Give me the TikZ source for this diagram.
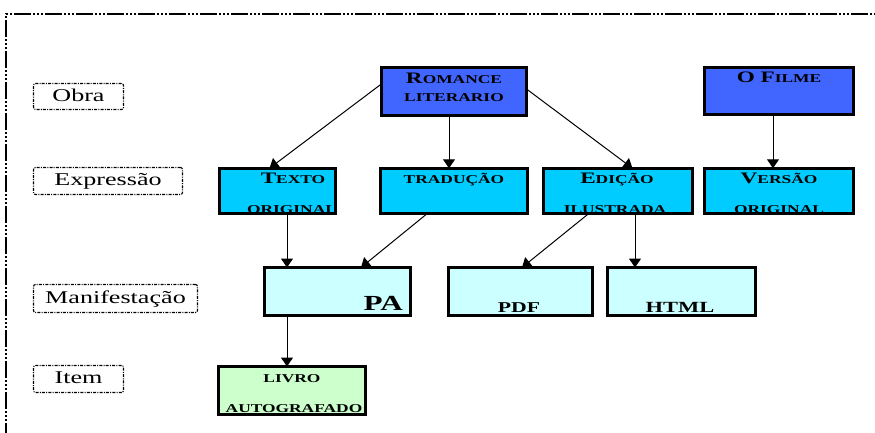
\documentclass[tikz,border=0pt]{standalone}
\usepackage{fontspec}
\setmainfont{Liberation Serif}[FakeStretch=1.45]
\usetikzlibrary{arrows.meta}
\definecolor{obraBlue}{RGB}{64,102,255}
\definecolor{exprCyan}{RGB}{0,204,255}
\definecolor{manifCyan}{RGB}{204,255,255}
\definecolor{itemGreen}{RGB}{204,255,204}
\newcommand{\Sm}[1]{{\fontsize{12}{14}\selectfont #1}}
\begin{document}
\begin{tikzpicture}[x=1pt,y=-1pt,
  ent/.style={draw=black,line width=2.8pt,inner sep=0pt,outer sep=0pt,minimum height=48pt},
  obra/.style={ent,fill=obraBlue},
  expr/.style={ent,fill=exprCyan,minimum height=45.5pt},
  manif/.style={ent,fill=manifCyan},
  itemc/.style={ent,fill=itemGreen},
  lvl/.style={draw=black,line width=1.1pt,dash pattern=on 3pt off 1.2pt on 1pt off 1.2pt,
    rounded corners=2pt,font=\fontsize{18}{20}\selectfont,inner sep=0pt,
    text height=12.5pt,text depth=3.5pt},
  nt/.style={anchor=base,font=\fontsize{16}{18}\selectfont\bfseries,inner sep=0pt},
  arr/.style={line width=1pt,-{Triangle[length=9pt,width=12pt]}},
  frame/.style={line width=1.5pt,dash pattern=on 17pt off 2pt on 2pt off 2pt on 2pt off 2pt on 2pt off 2pt}
]
\useasboundingbox (0,0) rectangle (875,432);
\clip (0,0) rectangle (875,432);
\fill[white] (0,0) rectangle (875,432);

% outer frame
\coordinate (fbl) at (6,440);
\coordinate (ftl) at (6,14);
\coordinate (ftr) at (880,14);
\draw[frame] (fbl) -- (ftl) -- (ftr);

% level labels
\node[lvl,minimum width=90pt,minimum height=26pt] (ob) at (78.5,96.5) {Obra};
\node[lvl,minimum width=149pt,minimum height=27pt] (ex) at (108,181) {Expressão};
\node[lvl,minimum width=164pt,minimum height=28pt] (ma) at (115.5,298.5) {Manifestação};
\node[lvl,minimum width=90pt,minimum height=27pt] (it) at (78.5,379) {Item};

% entity boxes
\node[obra,minimum width=145pt] (ro) at (454,91.5) {};
\node[obra,minimum width=149pt,minimum height=47pt] (fi) at (779,91) {};
\node[expr,minimum width=116pt] (te) at (277.5,191) {};
\node[expr,minimum width=147pt] (tr) at (454,191) {};
\node[expr,minimum width=149pt] (ed) at (618,191) {};
\node[expr,minimum width=149pt] (ve) at (779,191) {};
\node[manif,minimum width=146pt] (pa) at (337.5,291.5) {};
\node[manif,minimum width=144pt] (pdf) at (520.5,291.5) {};
\node[manif,minimum width=148pt] (ht) at (681.5,291.5) {};
\node[itemc,minimum width=147pt] (li) at (292,390.5) {};

% texts
\node[nt] (ro1) at (454,83) {R\Sm{OMANCE}};
\node[nt] (ro2) at (454,101) {\Sm{LITERARIO}};
\node[nt] (fi1) at (779,82) {O F\Sm{ILME}};
\node[nt] (te1) at (293,183) {T\Sm{EXTO}};
\node[nt] (te2) at (292,213) {\Sm{ORIGINAL}};
\node[nt] (tr1) at (454,183) {\Sm{TRADUÇÃO}};
\node[nt] (ed1) at (617,183) {E\Sm{DIÇÃO}};
\node[nt] (ed2) at (615,213) {\Sm{ILUSTRADA}};
\node[nt] (ve1) at (779,183) {V\Sm{ERSÃO}};
\node[nt] (ve2) at (779,213) {\Sm{ORIGINAL}};
\node[nt,anchor=base east,font=\fontsize{21.5}{24}\selectfont\bfseries] (pa1) at (403,310) {PA};
\node[nt,font=\fontsize{15}{17}\selectfont\bfseries] (pdf1) at (519,312) {PDF};
\node[nt,font=\fontsize{15.5}{17}\selectfont\bfseries] (ht1) at (680,312) {HTML};
\node[nt] (li1) at (292,382) {\Sm{LIVRO}};
\node[nt] (li2) at (294,412) {\Sm{AUTOGRAFADO}};

% connectors
\draw[arr] (ro.174) -- ([xshift=-8pt]te.north);
\draw[arr] ([xshift=-5pt]ro.south) -- ([xshift=-5pt]tr.north);
\draw[arr] ([yshift=2.5pt]ro.east) -- ([xshift=14.5pt]ed.north);
\draw[arr] ([xshift=-6pt]fi.south) -- ([xshift=-6pt]ve.north);
\draw[arr] ([xshift=9.5pt]te.south) -- ([xshift=-50.5pt]pa.north);
\draw[arr] ([xshift=-27pt]tr.south) -- ([xshift=23.5pt]pa.north);
\draw[arr] ([xshift=-29.5pt]ed.south) -- ([xshift=1.5pt]pdf.north);
\draw[arr] ([xshift=17pt]ed.south) -- ([xshift=-46.5pt]ht.north);
\draw[arr] ([xshift=-50.5pt]pa.south) -- ([xshift=-5pt]li.north);
\end{tikzpicture}
\end{document}
